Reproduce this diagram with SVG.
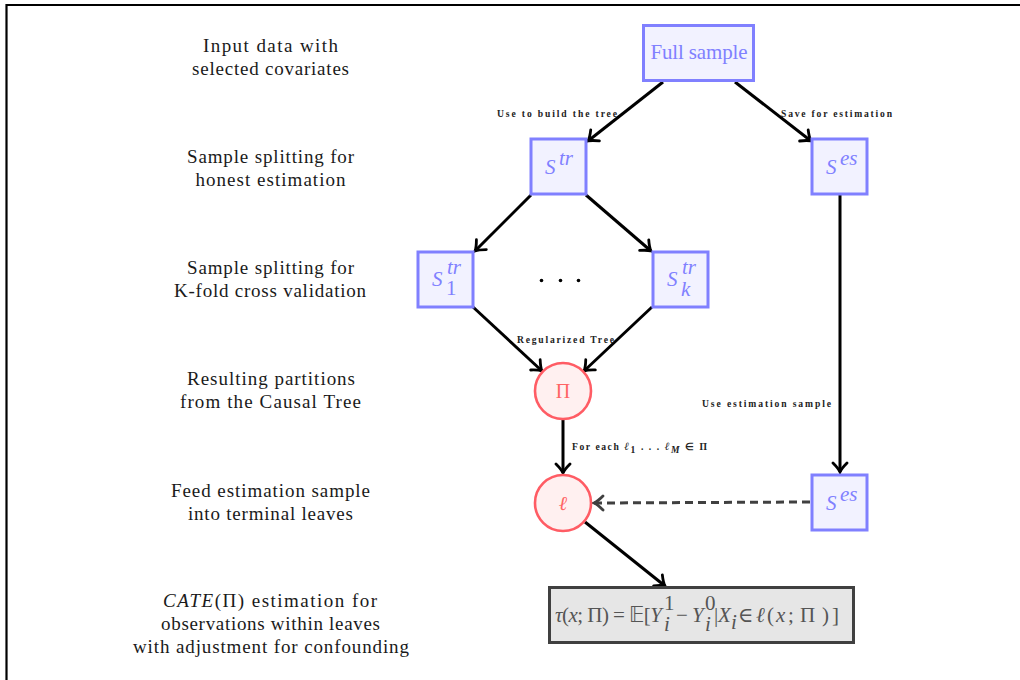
<svg xmlns="http://www.w3.org/2000/svg" width="1020" height="680" viewBox="0 0 1020 680">
<style>
.lbl{font-family:"Liberation Serif",serif;font-size:19px;fill:#1a1a1a;text-anchor:middle}
.sm{font-family:"Liberation Serif",serif;font-size:9.6px;font-weight:bold;fill:#222}
.bx{fill:#f2f2ff;stroke:#8080ff;stroke-width:3}
.bt{font-family:"Liberation Serif",serif;font-size:21px;fill:#8080ff;text-anchor:middle}
.bs{font-family:"Liberation Serif",serif;font-size:21px;fill:#8080ff}
.ci{fill:#fff0f0;stroke:#ff5c64;stroke-width:2.6}
.ct{font-family:"Liberation Serif",serif;font-size:20px;fill:#ff6464;text-anchor:middle}
.ed{fill:none;stroke:#000;stroke-width:3;marker-end:url(#arr)}
.dash{fill:none;stroke:#404040;stroke-width:3;stroke-dasharray:8 5;marker-end:url(#arrg)}
.mt{font-family:"Liberation Serif","DejaVu Serif",serif;font-size:21px;fill:#555}
</style>
<defs>
<marker id="arr" markerUnits="userSpaceOnUse" viewBox="-11 -9 13 18" markerWidth="13" markerHeight="18" refX="0" refY="0" orient="auto">
<path d="M -9 -7 Q -3.5 -1.5 0 0 Q -3.5 1.5 -9 7" fill="none" stroke="#000" stroke-width="2.8" stroke-linecap="round"/>
</marker>
<marker id="arrg" markerUnits="userSpaceOnUse" viewBox="-11 -9 13 18" markerWidth="13" markerHeight="18" refX="0" refY="0" orient="auto">
<path d="M -9 -7 Q -3.5 -1.5 0 0 Q -3.5 1.5 -9 7" fill="none" stroke="#404040" stroke-width="2.8" stroke-linecap="round"/>
</marker>
</defs>
<rect width="1020" height="680" fill="#fff"/>
<path d="M 6.5 680 V 5 H 1020" fill="none" stroke="#000" stroke-width="2.2"/>

<g id="labels">
<text class="lbl" x="270.5" y="52" textLength="135">Input data with</text>
<text class="lbl" x="270.5" y="75" textLength="157">selected covariates</text>
<text class="lbl" x="270.5" y="163" textLength="167">Sample splitting for</text>
<text class="lbl" x="270.5" y="186" textLength="150">honest estimation</text>
<text class="lbl" x="270.5" y="274" textLength="167">Sample splitting for</text>
<text class="lbl" x="270" y="297" textLength="192">K-fold cross validation</text>
<text class="lbl" x="271" y="385" textLength="168">Resulting partitions</text>
<text class="lbl" x="270.5" y="408" textLength="181">from the Causal Tree</text>
<text class="lbl" x="270.5" y="497" textLength="199">Feed estimation sample</text>
<text class="lbl" x="270.5" y="520" textLength="165">into terminal leaves</text>
<text class="lbl" x="270" y="607" textLength="214"><tspan font-style="italic">CATE</tspan>(Π) estimation for</text>
<text class="lbl" x="270.5" y="630" textLength="219">observations within leaves</text>
<text class="lbl" x="271" y="653" textLength="276">with adjustment for confounding</text>
</g>

<g id="connectors">
<line class="ed" x1="663" y1="82" x2="588" y2="141"/>
<line class="ed" x1="735" y1="82" x2="811" y2="141"/>
<line class="ed" x1="531" y1="195" x2="475" y2="251"/>
<line class="ed" x1="586" y1="195" x2="651" y2="251"/>
<line class="ed" x1="473" y1="307" x2="542" y2="371"/>
<line class="ed" x1="652" y1="307" x2="584" y2="371"/>
<line class="ed" x1="563" y1="420" x2="563" y2="473"/>
<line class="ed" x1="840" y1="195" x2="840" y2="472"/>
<line class="dash" x1="810" y1="502" x2="594" y2="503"/>
<line class="ed" x1="585" y1="522" x2="665" y2="586"/>
<text class="sm" x="497" y="116.5" textLength="120">Use to build the tree</text>
<text class="sm" x="781" y="116.5" textLength="111">Save for estimation</text>
<text class="sm" x="517" y="342.5" textLength="97">Regularized Tree</text>
<text class="sm" x="702" y="406.5" textLength="129">Use estimation sample</text>
<text class="sm" x="572" y="450" textLength="135">For each <tspan font-style="italic" font-size="11">ℓ</tspan><tspan dy="3">1</tspan><tspan dy="-3"> . . . </tspan><tspan font-style="italic" font-size="11">ℓ</tspan><tspan dy="3" font-style="italic">M</tspan><tspan dy="-3"> ∈ Π</tspan></text>
</g>

<g id="full-sample">
<rect class="bx" x="643.5" y="25.5" width="110" height="55"/>
<text class="bt" x="699" y="59" textLength="97">Full sample</text>
</g>
<g id="s-tr">
<rect class="bx" x="531" y="139" width="55" height="55"/>
<text class="bs" x="545" y="174" font-style="italic">S</text>
<text class="bs" x="559" y="165" font-style="italic" font-size="14">tr</text>
</g>
<g id="s-es-top">
<rect class="bx" x="812" y="139" width="55" height="55"/>
<text class="bs" x="826" y="174" font-style="italic">S</text>
<text class="bs" x="840" y="165" font-style="italic" font-size="14">es</text>
</g>
<g id="s1-tr">
<rect class="bx" x="418" y="252" width="55" height="55"/>
<text class="bs" x="432" y="286" font-style="italic">S</text>
<text class="bs" x="447" y="274" font-style="italic" font-size="13">tr</text>
<text class="bs" x="446" y="295" font-size="13">1</text>
</g>
<g id="dots">
<circle cx="541.5" cy="280.5" r="1.8" fill="#000"/>
<circle cx="560.5" cy="280.5" r="1.8" fill="#000"/>
<circle cx="578.5" cy="280.5" r="1.8" fill="#000"/>
</g>
<g id="sk-tr">
<rect class="bx" x="653" y="252" width="55" height="55"/>
<text class="bs" x="667" y="286" font-style="italic">S</text>
<text class="bs" x="682" y="274" font-style="italic" font-size="13">tr</text>
<text class="bs" x="681" y="296" font-style="italic" font-size="13">k</text>
</g>
<g id="pi">
<circle class="ci" cx="563" cy="391" r="28"/>
<text class="ct" x="563" y="398">Π</text>
</g>
<g id="leaf">
<circle class="ci" cx="563" cy="503" r="28"/>
<text class="ct" x="563" y="510" font-style="italic">ℓ</text>
</g>
<g id="s-es-bottom">
<rect class="bx" x="812" y="475" width="55" height="55"/>
<text class="bs" x="826" y="510" font-style="italic">S</text>
<text class="bs" x="840" y="501" font-style="italic" font-size="14">es</text>
</g>
<g id="result">
<rect x="549.5" y="587.5" width="304" height="55" fill="#e6e6e6" stroke="#404040" stroke-width="3"/>
<text class="mt" x="555" y="622" textLength="107"><tspan font-style="italic">τ</tspan>(<tspan font-style="italic">x</tspan>; Π) = <tspan font-family="DejaVu Sans">𝔼</tspan>[<tspan font-style="italic">Y</tspan></text>
<text class="mt" x="664" y="610" font-size="13">1</text>
<text class="mt" x="664" y="631" font-size="13" font-style="italic">i</text>
<text class="mt" x="676" y="622">−</text>
<text class="mt" x="692" y="622" font-style="italic">Y</text>
<text class="mt" x="705" y="610" font-size="13">0</text>
<text class="mt" x="705" y="631" font-size="13" font-style="italic">i</text>
<text class="mt" x="714" y="622">|</text>
<text class="mt" x="718" y="622" font-style="italic">X</text>
<text class="mt" x="731" y="629" font-size="13" font-style="italic">i</text>
<text class="mt" x="738" y="622">∈</text>
<text class="mt" x="756" y="622" font-style="italic">ℓ</text>
<text class="mt" x="767" y="622">(</text>
<text class="mt" x="776" y="622" font-style="italic">x</text>
<text class="mt" x="788" y="622">;</text>
<text class="mt" x="800" y="622">Π</text>
<text class="mt" x="822" y="622">)</text>
<text class="mt" x="832" y="622">]</text>
</g>
</svg>
